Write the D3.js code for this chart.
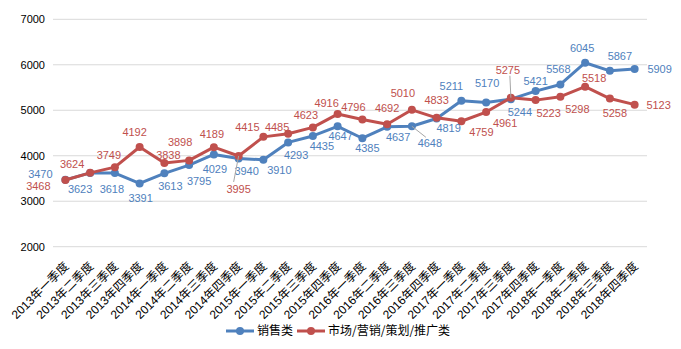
<!DOCTYPE html>
<html>
<head>
<meta charset="utf-8">
<script src="https://cdn.jsdelivr.net/npm/d3@7/dist/d3.min.js"></script>
<style>
  body { margin: 0; background: #fff; }
  svg { display: block; }
</style>
</head>
<body>
<svg id="chart" width="681" height="349"></svg>
<script>
// ---- data ----
const categories = [
  "2013年一季度","2013年二季度","2013年三季度","2013年四季度",
  "2014年一季度","2014年二季度","2014年三季度","2014年四季度",
  "2015年一季度","2015年二季度","2015年三季度","2015年四季度",
  "2016年一季度","2016年二季度","2016年三季度","2016年四季度",
  "2017年一季度","2017年二季度","2017年三季度","2017年四季度",
  "2018年一季度","2018年二季度","2018年三季度","2018年四季度"
];
const seriesNames = ["销售类", "市场/营销/策划/推广类"];
const salesValues = [3470,3623,3618,3391,3613,3795,4029,3940,3910,4293,4435,4647,4385,4637,4648,4819,5211,5170,5244,5421,5568,6045,5867,5909];
const marketingValues = [3468,3624,3749,4192,3838,3898,4189,3995,4415,4485,4623,4916,4796,4692,5010,4833,4759,4961,5275,5223,5298,5518,5258,5123];
const yTicks = [2000,3000,4000,5000,6000,7000];

// ---- label placement (layout only) ----
const salesLabelOffsets = [
  [-25,-6],[-10,16],[-3,16],[1,15],[6,13],[10,16],[1,15],[8,13],[16,10],[8,13],[9,10],[3,10],
  [5,10],[11,10],[18,17],[12,10],[-10,-15],[1,-19],[9,13],[0,-10],[-2,-15],[-3,-15],[10,-15],[25,0]
];
const marketingLabelOffsets = [
  [-27,6],[-18,-9],[-6,-12],[-5,-15],[4,-8],[-9,-18],[-2,-13],[0,33],[-16,-10],[-11,-7],[-7,-12],[-11,-11],
  [-9,-12],[0,-16],[-9,-17],[0,-18],[20,11],[19,11],[-3,-28],[13,13],[17,12],[9,-9],[5,15],[24,0]
];
const salesLeaders = {14: [14, 11]};
const marketingLeaders = {7: [-5, 26], 18: [-1, -22]};

const colors = ["#4F81BD", "#C0504D"];

const svg = d3.select("#chart");
const plotLeft = 53, plotRight = 647, plotTop = 19.3, plotBottom = 246.7;

const x = d3.scaleBand().domain(categories).range([plotLeft, plotRight]).paddingInner(0).paddingOuter(0);
const y = d3.scaleLinear().domain([2000, 7000]).range([plotBottom, plotTop]);
const cx = d => x(d) + x.bandwidth() / 2;

// gridlines
svg.append("g").selectAll("line").data(yTicks).join("line")
  .attr("x1", plotLeft).attr("x2", plotRight)
  .attr("y1", d => y(d)).attr("y2", d => y(d))
  .attr("stroke", "#d9d9d9").attr("stroke-width", 1);

// y axis labels
const yAxis = d3.axisLeft(y).tickValues(yTicks).tickSize(0).tickPadding(0).tickFormat(d3.format("d"));
const yg = svg.append("g").attr("transform", `translate(${plotLeft - 8},0)`).call(yAxis);
yg.select(".domain").remove();
yg.selectAll("text")
  .attr("font-family", "'Liberation Sans', Arial, sans-serif")
  .attr("font-size", "11px").attr("fill", "#000");

// x axis labels
const xAxis = d3.axisBottom(x).tickSize(0).tickPadding(0);
const xg = svg.append("g").call(xAxis);
xg.select(".domain").remove();
xg.selectAll(".tick").attr("transform", d => `translate(${cx(d) + 4},267)`);
xg.selectAll(".tick text")
  .attr("x", 0).attr("y", 0).attr("dy", 0)
  .attr("transform", "rotate(-45)")
  .attr("text-anchor", "end")
  .attr("font-family", "'Liberation Sans', 'Noto Sans CJK SC', sans-serif")
  .attr("font-size", "12px").attr("fill", "#000");

const allSeries = [
  {name: seriesNames[0], values: salesValues, offsets: salesLabelOffsets, leaders: salesLeaders, color: colors[0]},
  {name: seriesNames[1], values: marketingValues, offsets: marketingLabelOffsets, leaders: marketingLeaders, color: colors[1]}
];

const line = d3.line().x((d, i) => cx(categories[i])).y(d => y(d));

allSeries.forEach(s => {
  const g = svg.append("g");
  g.append("path").datum(s.values)
    .attr("d", line).attr("fill", "none")
    .attr("stroke", s.color).attr("stroke-width", 3)
    .attr("stroke-linejoin", "round").attr("stroke-linecap", "round");
  g.selectAll("circle").data(s.values).join("circle")
    .attr("cx", (d, i) => cx(categories[i])).attr("cy", d => y(d))
    .attr("r", 4).attr("fill", s.color);
});

// leader lines and data labels
allSeries.forEach(s => {
  const g = svg.append("g");
  Object.entries(s.leaders).forEach(([k, off]) => {
    const i = +k;
    const px = cx(categories[i]), py = y(s.values[i]);
    g.append("line")
      .attr("x1", px).attr("y1", py)
      .attr("x2", px + off[0]).attr("y2", py + off[1])
      .attr("stroke", "#a6a6a6").attr("stroke-width", 1);
  });
  g.selectAll("text").data(s.values).join("text")
    .attr("x", (d, i) => cx(categories[i]) + s.offsets[i][0])
    .attr("y", (d, i) => y(d) + s.offsets[i][1])
    .attr("dy", "0.36em")
    .attr("text-anchor", "middle")
    .attr("font-family", "'Liberation Sans', Arial, sans-serif")
    .attr("font-size", "11px")
    .attr("fill", s.color)
    .text(d => d);
});

// legend
const legendItems = [
  {name: seriesNames[0], color: colors[0], x1: 226, x2: 254, tx: 257},
  {name: seriesNames[1], color: colors[1], x1: 297, x2: 325, tx: 328}
];
const lg = svg.append("g");
const ly = 331;
legendItems.forEach(it => {
  lg.append("line").attr("x1", it.x1).attr("x2", it.x2).attr("y1", ly).attr("y2", ly)
    .attr("stroke", it.color).attr("stroke-width", 3);
  lg.append("circle").attr("cx", (it.x1 + it.x2) / 2).attr("cy", ly).attr("r", 4).attr("fill", it.color);
  lg.append("text").attr("x", it.tx).attr("y", ly).attr("dy", "0.36em")
    .attr("font-family", "'Noto Sans CJK SC', sans-serif")
    .attr("font-size", "12px").attr("fill", "#000")
    .text(it.name);
});
</script>
</body>
</html>
